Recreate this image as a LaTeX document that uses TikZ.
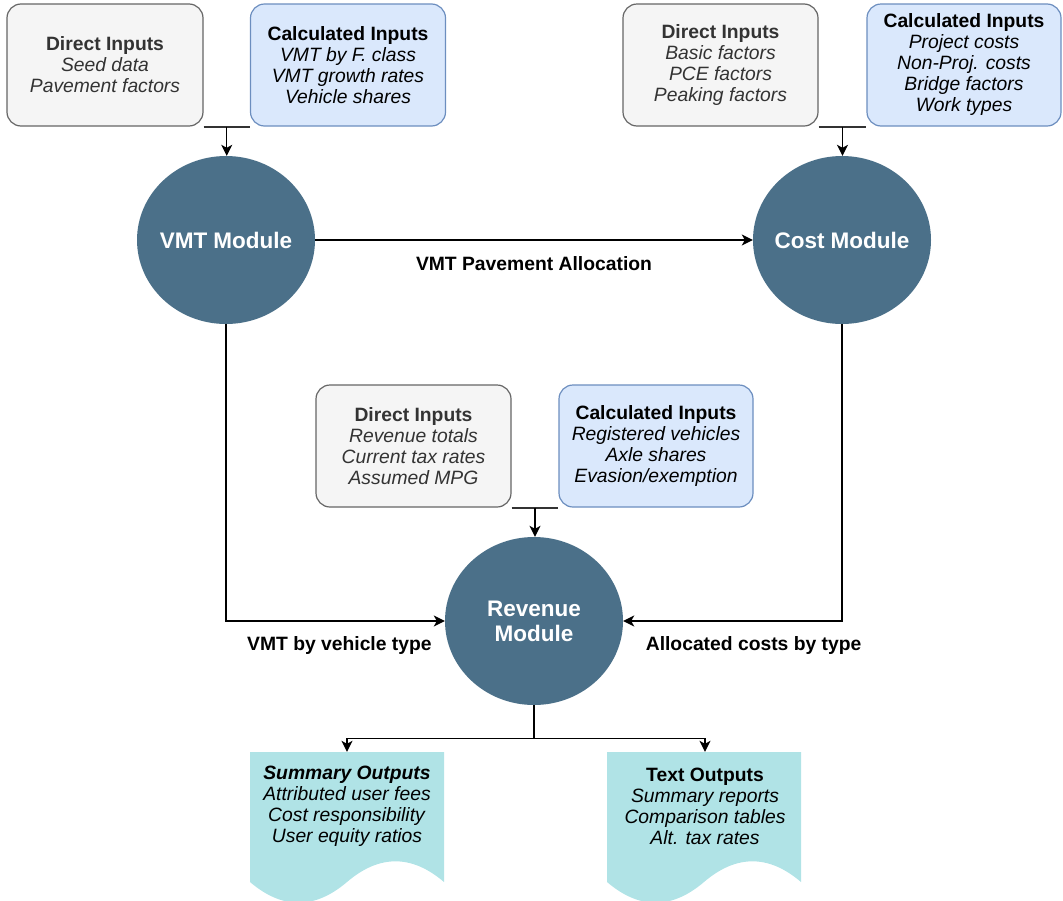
\documentclass[tikz,border=0pt]{standalone}
\usepackage{fontspec}
\setmainfont{Liberation Sans}
\usepackage{tikz}
\usetikzlibrary{arrows.meta,positioning,shapes.geometric,calc}
\definecolor{dirfill}{HTML}{F5F5F5}
\definecolor{dirline}{HTML}{666666}
\definecolor{dirtext}{HTML}{333333}
\definecolor{calcfill}{HTML}{DAE8FC}
\definecolor{calcline}{HTML}{6C8EBF}
\definecolor{modfill}{HTML}{4B7089}
\definecolor{outfill}{HTML}{B0E3E6}

\begin{document}
\begin{tikzpicture}[x=1pt,y=-1pt,
      every node/.style={font=\fontsize{19.3}{21}\selectfont},
      direct/.style={draw=dirline,fill=dirfill,text=dirtext,rounded corners=14pt,line width=1.2pt,
        minimum width=196pt,minimum height=122pt,inner sep=0pt,align=center},
      calcd/.style={direct,draw=calcline,fill=calcfill,text=black},
      module/.style={ellipse,fill=modfill,text=white,minimum width=178pt,minimum height=168pt,
        inner sep=0pt,align=center,font=\fontsize{22.5}{25}\selectfont\bfseries},
      output/.style={minimum width=194pt,minimum height=108pt,inner sep=0pt,align=center},
      lbl/.style={font=\fontsize{19.3}{21}\selectfont\bfseries},
      arr/.style={-{Stealth[length=11pt,width=11pt,inset=3pt]},line width=1.3pt},
      bar/.style={draw=dirtext,line width=2pt}]
    \clip (0,0) rectangle (1063,900);
    \foreach \x in {250,607}
      \fill[outfill] (\x,752) -- ++(194,0) -- ++(0,130)
        .. controls +(-32.3,-27.6) and +(32.3,-27.6) .. ++(-97,0)
        .. controls +(-32.3,27.6) and +(32.3,27.6) .. ++(-97,0) -- cycle;
    \node[direct] (vmtdir) at (105,65) {\textbf{Direct Inputs}\\\textit{Seed data}\\\textit{Pavement factors}};
    \node[calcd,minimum width=195pt] (vmtcalc) at (348,65) {\textbf{Calculated Inputs}\\\textit{VMT by F. class}\\\textit{VMT growth rates}\\\textit{Vehicle shares}};
    \node[direct,minimum width=195pt] (costdir) at (720.5,65) {\textbf{Direct Inputs}\\\textit{Basic factors}\\\textit{PCE factors}\\\textit{Peaking factors}};
    \node[calcd,minimum width=194pt] (costcalc) at (964,65) {\textbf{Calculated Inputs}\\\textit{Project costs}\\\textit{Non-Proj. costs}\\\textit{Bridge factors}\\\textit{Work types}};
    \node[direct,minimum width=195pt] (revdir) at (413.5,446) {\textbf{Direct Inputs}\\\textit{Revenue totals}\\\textit{Current tax rates}\\\textit{Assumed MPG}};
    \node[calcd,minimum width=194pt] (revcalc) at (656,446) {\textbf{Calculated Inputs}\\\textit{Registered vehicles}\\\textit{Axle shares}\\\textit{Evasion/exemption}};
    \node[module] (vmt) at (226,240) {\makebox[0pt]{VMT Module}};
    \node[module] (cost) at (842,240) {\makebox[0pt]{Cost Module}};
    \node[module] (rev) at (534,621) {\makebox[0pt]{Revenue}\\\makebox[0pt]{Module}};
    \node[output] (sumout) at (347,806) {\textbf{\textit{Summary Outputs}}\\\textit{Attributed user fees}\\\textit{Cost responsibility}\\\textit{User equity ratios}};
    \node[output] (txtout) at (705,806) {\textbf{Text Outputs}\\\textit{Summary reports}\\\textit{Comparison tables}\\\textit{Alt. tax rates}};
    \coordinate (vmtin) at ($(vmtdir.south east)!0.5!(vmtcalc.south west)$);
    \coordinate (costin) at ($(costdir.south east)!0.5!(costcalc.south west)$);
    \coordinate (revin) at ($(revdir.south east)!0.5!(revcalc.south west)$);
    \coordinate (split) at ($(rev.south)+(0,33)$);
    \draw[bar] (vmtdir.south east) -- (vmtcalc.south west);
    \draw[bar] (costdir.south east) -- (costcalc.south west);
    \draw[bar] (revdir.south east) -- (revcalc.south west);
    \draw[arr] (vmtin) -- (vmtin |- vmt.north);
    \draw[arr] (costin) -- (costin |- cost.north);
    \draw[arr] (revin) -- (revin |- rev.north);
    \draw[arr] (vmt) -- node[lbl,yshift=-24pt] {VMT Pavement Allocation} (cost);
    \draw[arr] (vmt.south) |- node[lbl,pos=0.75,yshift=-25pt,xshift=4pt] {VMT by vehicle type} (rev.west);
    \draw[arr] (cost.south) |- node[lbl,pos=0.75,yshift=-25pt,xshift=21pt] {Allocated costs by type} (rev.east);
    \draw[line width=1.3pt] (rev.south) -- (split);
    \draw[arr] (split) -| (sumout.north);
    \draw[arr] (split) -| (txtout.north);
  \end{tikzpicture}
\end{document}
